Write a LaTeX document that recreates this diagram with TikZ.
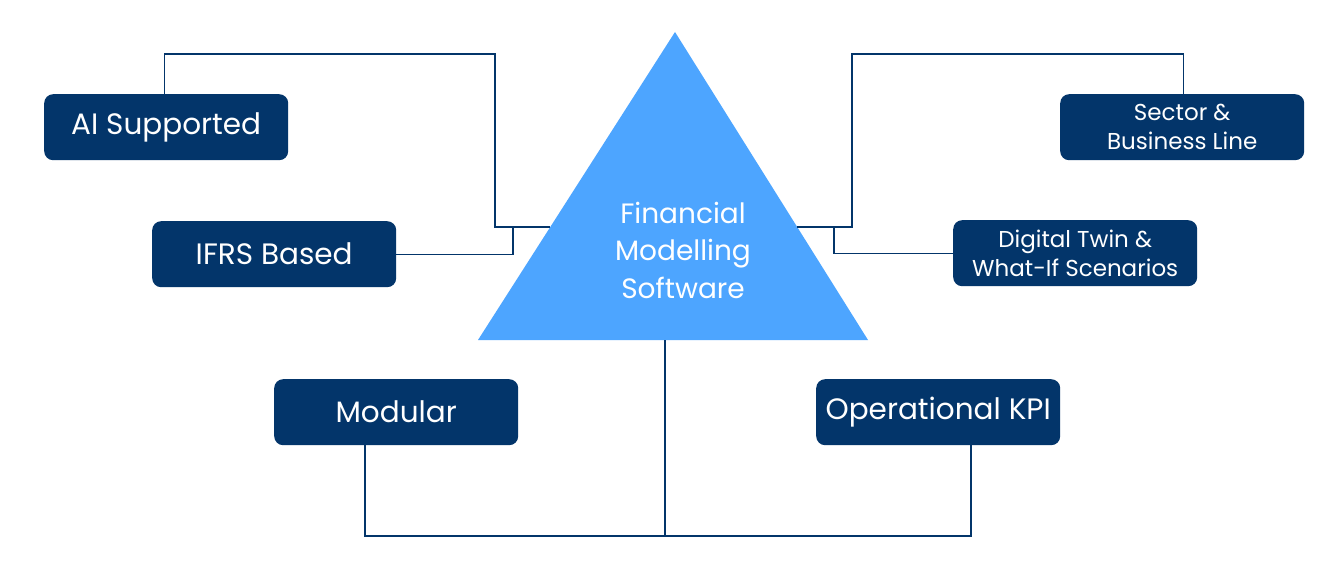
\documentclass[tikz,border=0pt]{standalone}
\usepackage{fontspec}
\setmainfont{Poppins}
\definecolor{navy}{HTML}{03356A}
\definecolor{skyb}{HTML}{4DA5FF}
\begin{document}
\begin{tikzpicture}[x=1pt,y=-1pt,
  feat/.style={fill=navy,rounded corners=9pt,minimum width=244pt,minimum height=66pt,
    inner sep=0pt,text=white,align=center,anchor=north west},
  big/.style={font=\fontsize{29.5}{35}\selectfont},
  small/.style={font=\fontsize{23}{29}\selectfont},
  conn/.style={draw=navy,line width=1.4pt}]
\useasboundingbox (0,0) rectangle (1342,578);
\fill[white] (0,0) rectangle (1342,578);
% triangle
\coordinate (apex) at (675,32);
\coordinate (bl) at (478,340);
\coordinate (br) at (868,340);
\fill[skyb] (apex) -- (br) -- (bl) -- cycle;
\node[text=white,align=center,font=\fontsize{28}{37.5}\selectfont] (core) at (683,250) {Financial\\Modelling\\Software};
% boxes
\node[feat,big] (ai) at (44,94) {AI Supported};
\node[feat,big] (ifrs) at (152,221) {IFRS Based};
\node[feat,big] (mod) at (274,379) {Modular};
\node[feat,big] (kpi) at (816,379) {Operational KPI};
\node[feat,small] (sec) at (1060,94) {Sector \&\\Business Line};
\node[feat,small] (dt) at (953,220) {Digital Twin \&\\What-If Scenarios};
% junction coordinates
\coordinate (tl) at (549.5,227);
\coordinate (tr) at (797,227);
\coordinate (lt) at (495,54);
\coordinate (lj) at (513,227);
\coordinate (rt) at (852,54);
\coordinate (rj) at (834,227);
\coordinate (tb) at (665,340);
\coordinate (tbe) at (665,536);
\coordinate (mb) at (365,536);
\coordinate (kb) at (971,536);
% connectors
\draw[conn] ([xshift=-2pt]ai.north) |- (lt) |- (tl);
\draw[conn] (ifrs.east) -| (lj);
\draw[conn] ([xshift=1pt]sec.north) |- (rt) |- (tr);
\draw[conn] (dt.west) -| (rj);
\draw[conn] (tb) -- (tbe);
\draw[conn] (mod.south -| mb) -- (mb) -- (kb) -- (kpi.south -| kb);
\end{tikzpicture}
\end{document}
